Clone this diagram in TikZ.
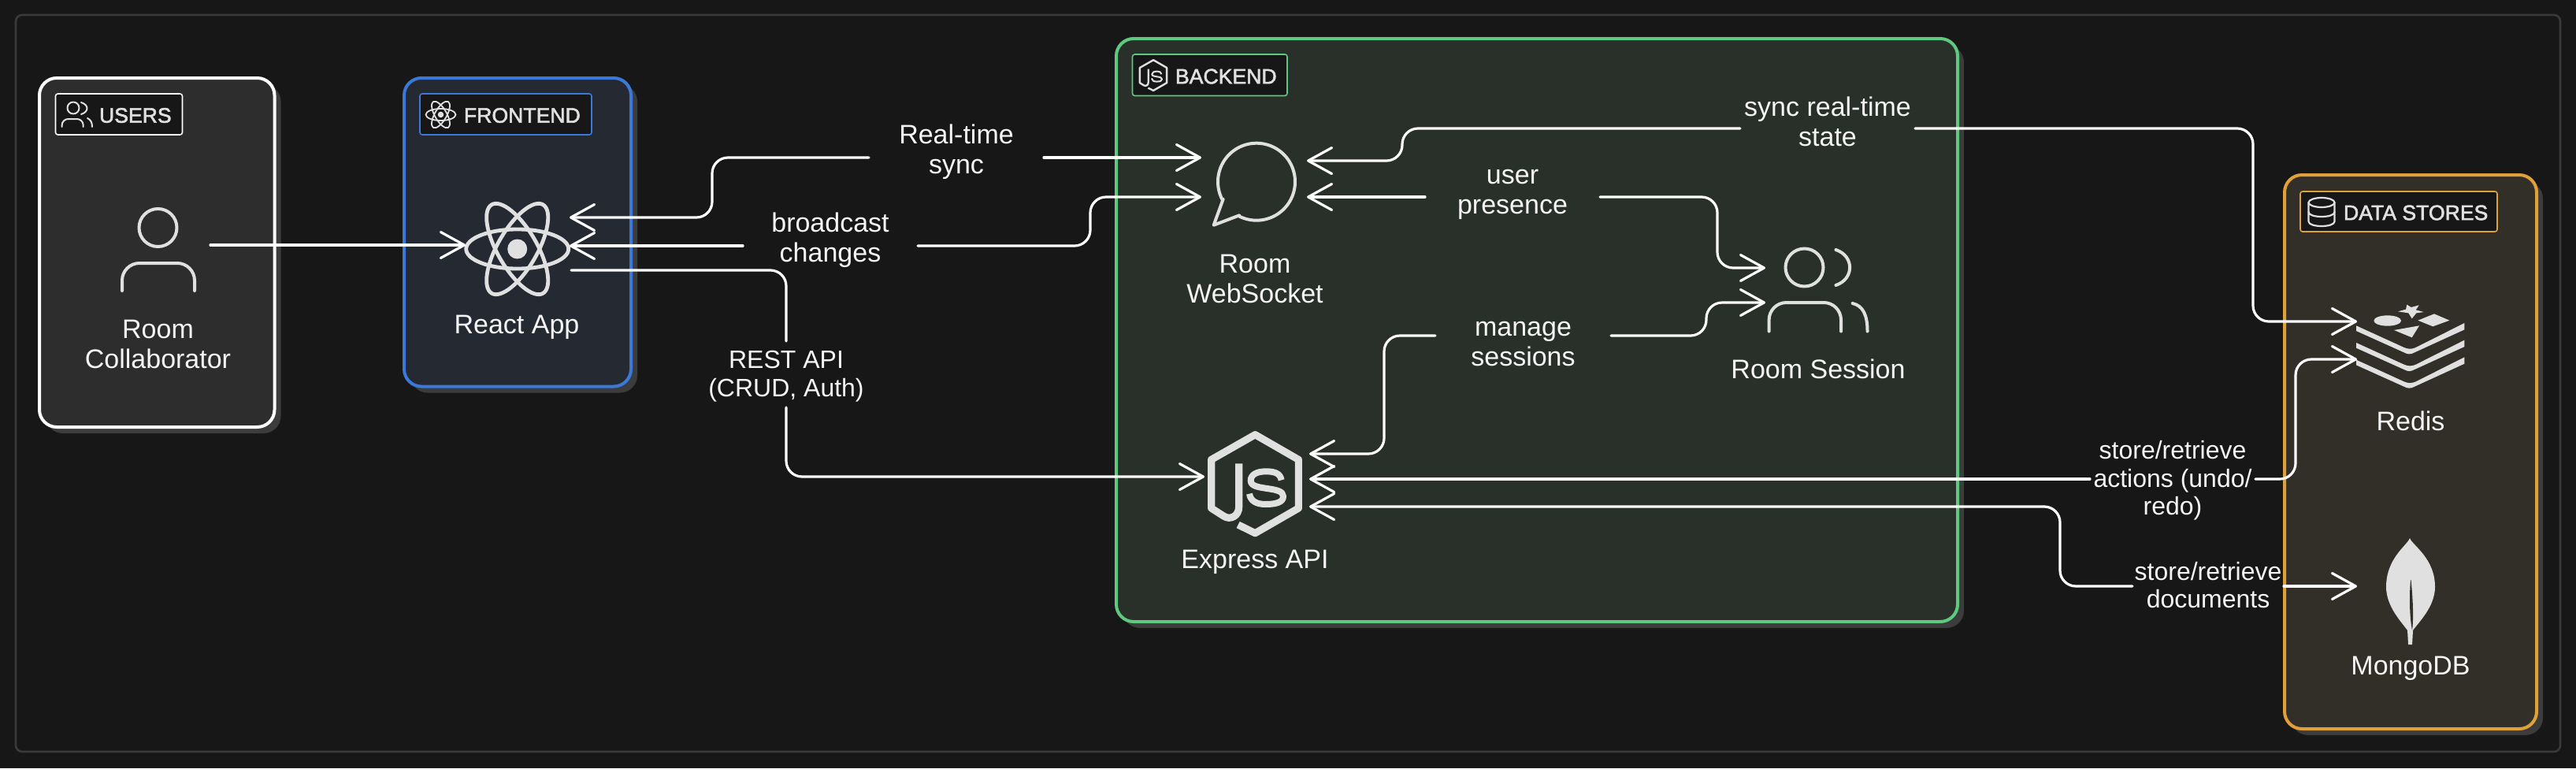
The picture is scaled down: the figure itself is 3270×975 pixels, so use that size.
\documentclass[tikz,border=0pt]{standalone}
\usepackage{fontspec}
\setmainfont{Liberation Sans}
\font\badgefont="Liberation Sans:embolden=2.2" at 13.3pt
\usetikzlibrary{arrows.meta}
\definecolor{canvas}{HTML}{171717}
\definecolor{framec}{HTML}{3A3A3A}
\definecolor{shadowc}{HTML}{3C3C3C}
\definecolor{iconc}{HTML}{E0E0E0}
\definecolor{textc}{HTML}{F5F5F5}
\definecolor{usersfill}{HTML}{2D2D2D}
\definecolor{frontfill}{HTML}{252A32}
\definecolor{backfill}{HTML}{29302A}
\definecolor{datafill}{HTML}{322F28}
\definecolor{usersline}{HTML}{FFFFFF}
\definecolor{frontline}{HTML}{3B78D8}
\definecolor{backline}{HTML}{5FCA7F}
\definecolor{dataline}{HTML}{E0A03A}
\tikzset{
  conn/.style={draw=white,line width=1.6pt,rounded corners=10pt,line cap=round,
    >={Straight Barb[length=15pt,width=16.5pt,line width=1.6pt,round]}},
  icon/.style={draw=iconc,line width=2pt,line join=round,line cap=round},
  iconfill/.style={fill=iconc,draw=none},
  lbl/.style={inner sep=0pt,outer sep=0pt,align=center,text=textc,yshift=-2pt,
    font=\fontsize{17}{19}\selectfont},
  lblsm/.style={inner sep=0pt,outer sep=0pt,align=center,text=textc,yshift=-2pt,
    font=\fontsize{16}{17.8}\selectfont},
  badgetext/.style={inner sep=0pt,outer sep=0pt,anchor=west,text=iconc,
    font=\badgefont},
}
% group box: x1,y1,x2,y2,fill,line
\newcommand{\grpbox}[6]{%
  \fill[shadowc,rounded corners=11pt] (#1+8,#2+8) rectangle (#3+8,#4+8);
  \draw[fill=#5,draw=#6,line width=2pt,rounded corners=11pt] (#1,#2) rectangle (#3,#4);}
\newcommand{\badgebox}[5]{%
  \draw[fill=canvas,draw=#5,line width=.8pt,rounded corners=1.5pt] (#1,#2) rectangle (#3,#4);}
% react logo: cx,cy,rx,ry,line width,dot
\newcommand{\reactlogo}[6]{%
  \draw[icon,line width=#5] (#1,#2) ellipse ({#3} and {#4});
  \draw[icon,line width=#5,rotate around={60:(#1,#2)}] (#1,#2) ellipse ({#3} and {#4});
  \draw[icon,line width=#5,rotate around={-60:(#1,#2)}] (#1,#2) ellipse ({#3} and {#4});
  \fill[iconc] (#1,#2) circle (#6);}
% js logo: cx,cy,scale,hexline,sline
\newcommand{\jslogo}[5]{%
  \begin{scope}[shift={(#1,#2)},scale=#3/3,shift={(-309,-252)}]
    \draw[icon,line width=#4,line cap=butt,line join=round] (248,175) -- (248,340)
      .. controls (248,375) and (215,392) .. (190,375) -- (143,345) -- (143,160) -- (310,65)
      -- (475,160) -- (475,345) -- (310,440) -- (245,408);
    \draw[icon,line width=#5,line cap=butt] (410,238) .. controls (405,212) and (385,205) .. (350,205)
      .. controls (315,205) and (293,218) .. (293,240)
      .. controls (293,262) and (325,265) .. (355,270)
      .. controls (390,275) and (417,280) .. (417,300)
      .. controls (417,322) and (390,330) .. (350,330)
      .. controls (315,330) and (292,318) .. (288,290);
  \end{scope}}
\begin{document}
\begin{tikzpicture}[x=0.5pt,y=-0.5pt]
\useasboundingbox (0,0) rectangle (3270,975);
\fill[canvas] (0,0) rectangle (3270,975);
\draw[framec,line width=1.3pt,rounded corners=4pt] (20,19) rectangle (3250,954);

% groups
\grpbox{50}{99}{348.5}{542}{usersfill}{usersline}
\grpbox{513}{99}{801}{490.5}{frontfill}{frontline}
\grpbox{1417}{49}{2485}{789}{backfill}{backline}
\grpbox{2900}{222}{3220}{925}{datafill}{dataline}

% badges
\badgebox{70.5}{119}{231.5}{171}{usersline}
\node[badgetext] (usersTag) at (126,146.5) {USERS};
\draw[icon,line width=1pt] (93,137) circle (7.5);
\draw[icon,line width=1pt] (103,130) .. controls (113,133) and (113,142) .. (103,145);
\draw[icon,line width=1pt,rounded corners=4pt] (78.6,161) -- (78.6,151) -- (105.7,151) -- (105.7,161);
\draw[icon,line width=1pt] (111,150) .. controls (115,152) and (117,155) .. (117,161);

\badgebox{533}{119}{751}{171}{frontline}
\node[badgetext] (frontTag) at (589,146.5) {FRONTEND};
\reactlogo{559.5}{145.5}{19}{7.5}{.9pt}{3.8}

\badgebox{1437.5}{69}{1634}{121.5}{backline}
\node[badgetext] (backTag) at (1492,97) {BACKEND};
\jslogo{1464}{95.5}{.31}{1.2pt}{1pt}

\badgebox{2920}{243}{3170}{294}{dataline}
\node[badgetext] (dataTag) at (2975,270) {DATA STORES};
\begin{scope}[icon,line width=1.1pt]
  \draw (2947,257) ellipse (16.5 and 6);
  \draw (2930.5,257) -- (2930.5,281) .. controls (2930.5,289) and (2963.5,289) .. (2963.5,281) -- (2963.5,257);
  \draw (2930.5,269) .. controls (2930.5,277) and (2963.5,277) .. (2963.5,269);
\end{scope}

% user icon
\draw[icon] (200.5,289) circle (24);
\draw[icon,rounded corners=11pt] (155,369) -- (155,334) -- (247,334) -- (247,369);
\node[lbl] (userName) at (200.5,437) {\strut Room\\\strut Collaborator};

% react icon
\reactlogo{656.7}{316}{65}{25}{2.4pt}{12.5}
\node[lbl] (reactName) at (656,412) {\strut React App};

% chat icon
\draw[icon] (1552.7,252.7) -- (1540.7,285.7) -- (1573.3,273.3)
  -- plot[domain=117:-207.5,samples=80] ({1595+49*cos(\x)},{230.7+49*sin(\x)}) -- cycle;
\node[lbl] (wsName) at (1593,354) {\strut Room\\\strut WebSocket};

% session icon
\draw[icon] (2290.5,339.5) circle (24);
\draw[icon] (2330.5,317) .. controls (2354,325) and (2354,354) .. (2330.5,362);
\draw[icon,rounded corners=11pt] (2245.6,420.5) -- (2245.6,384) -- (2337,384) -- (2337,420.5);
\draw[icon] (2351.6,385) .. controls (2365,388) and (2370.5,400) .. (2370.5,420.5);
\node[lbl] (sessName) at (2308,469) {\strut Room Session};

% express icon
\jslogo{1593}{614}{1}{4.6pt}{4pt}
\node[lbl] (apiName) at (1593,710) {\strut Express API};

% redis icon
\begin{scope}[shift={(2950,360)},scale=1/3]
  \foreach \d in {0,65,130}{
    \fill[iconc,shift={(0,\d)}] (123,160) -- (305,243) .. controls (320,250) and (335,250) .. (350,243)
      -- (535,150) -- (535,175) -- (345,262) .. controls (330,270) and (320,270) .. (305,262)
      -- (123,180) -- cycle;
  }
  \fill[iconc] (242,141) ellipse (52 and 20);
  \fill[iconc] (316,80) -- (332,90) -- (362,82) -- (350,100) -- (380,108) -- (352,112)
     -- (335,133) -- (322,112) -- (282,106) -- (312,98) -- cycle;
  \fill[iconc] (358,140) -- (420,115) -- (478,140) -- (415,163) -- cycle;
  \fill[iconc] (267,177) -- (363,160) -- (335,205) -- cycle;
\end{scope}
\node[lbl] (redisName) at (3060,535) {\strut Redis};

% mongo icon
\fill[iconc] (3059,683) .. controls (3062,692) and (3091,708) .. (3091,745)
  .. controls (3091,770) and (3070,790) .. (3063,800) -- (3062,818) -- (3057,818) -- (3056,800)
  .. controls (3049,790) and (3029,770) .. (3029,745)
  .. controls (3029,708) and (3056,692) .. (3059,683) -- cycle;
\fill[datafill] (3060,736) .. controls (3058,760) and (3059,785) .. (3062,800)
  .. controls (3064,785) and (3063,760) .. (3060.5,736) -- cycle;
\node[lbl] (mongoName) at (3060,845) {\strut MongoDB};

% connector ports
\coordinate (userOut) at (267,311);
\coordinate (reactL) at (591,311);
\coordinate (reactR1) at (723,276);
\coordinate (reactR2) at (723,312);
\coordinate (reactOut) at (725,343);
\coordinate (wsL1) at (1525,200);
\coordinate (wsL2) at (1525,250);
\coordinate (wsR1) at (1659,204);
\coordinate (wsR2) at (1659,250);
\coordinate (sessL1) at (2241,340);
\coordinate (sessL2) at (2241,384);
\coordinate (apiL) at (1529,605);
\coordinate (apiR1) at (1662,576);
\coordinate (apiR2) at (1662,608);
\coordinate (apiR3) at (1662,643);
\coordinate (redisL1) at (2992,408);
\coordinate (redisL2) at (2992,456);
\coordinate (mongoL) at (2992,744);
\coordinate (syncLine) at (2320,163);
\coordinate (manageLine) at (1934,426);
\coordinate (restIn) at (998,433);
\coordinate (restOut) at (998,517);

% connector labels (their width is the gap left in the line)
\node[lbl,minimum width=111pt] (rtSync) at (1214,189.5) {\strut Real-time\\\strut sync};
\node[lbl,minimum width=111pt] (bcast) at (1054,301.5) {\strut broadcast\\\strut changes};
\node[lblsm] (rest) at (998,474.5) {\strut REST API\\\strut (CRUD, Auth)};
\node[lbl,minimum width=111pt] (syncState) at (2320,155) {\strut sync real-time\\\strut state};
\node[lbl,minimum width=111pt] (presence) at (1920,241) {\strut user\\\strut presence};
\node[lbl,minimum width=111.5pt] (sessions) at (1933.5,434) {\strut manage\\\strut sessions};
\node[lblsm,minimum width=105pt] (actions) at (2758,607) {\strut store/retrieve\\\strut actions (undo/\\\strut redo)};
\node[lblsm,minimum width=96pt] (documents) at (2803,743) {\strut store/retrieve\\\strut documents};

% connectors
\draw[conn,->] (userOut) -- (reactL);
\draw[conn,<-] (reactR1) -| (904,200) -- (rtSync.west |- wsL1);
\draw[conn,->] (rtSync.east |- wsL1) -- (wsL1);
\draw[conn,<-] (reactR2) -- (bcast.west |- reactR2);
\draw[conn,->] (bcast.east |- reactR2) -| (1384,250) -- (wsL2);
\draw[conn] (reactOut) -| (restIn);
\draw[conn,->] (restOut) |- (apiL);
\draw[conn,<-] (wsR1) -| (1780,163) -- (syncState.west |- syncLine);
\draw[conn,->] (syncState.east |- syncLine) -| (2860,408) -- (redisL1);
\draw[conn,<-] (wsR2) -- (presence.west |- wsR2);
\draw[conn,->] (presence.east |- wsR2) -| (2180,340) -- (sessL1);
\draw[conn,<-] (apiR1) -| (1757,426) -- (sessions.west |- manageLine);
\draw[conn,->] (sessions.east |- manageLine) -| (2166,384) -- (sessL2);
\draw[conn,<-] (apiR2) -- (actions.west |- apiR2);
\draw[conn,->] (actions.east |- apiR2) -| (2914,456) -- (redisL2);
\draw[conn,<-] (apiR3) -| (2615,744) -- (documents.west |- mongoL);
\draw[conn,->] (documents.east |- mongoL) -- (mongoL);
\end{tikzpicture}
\end{document}
